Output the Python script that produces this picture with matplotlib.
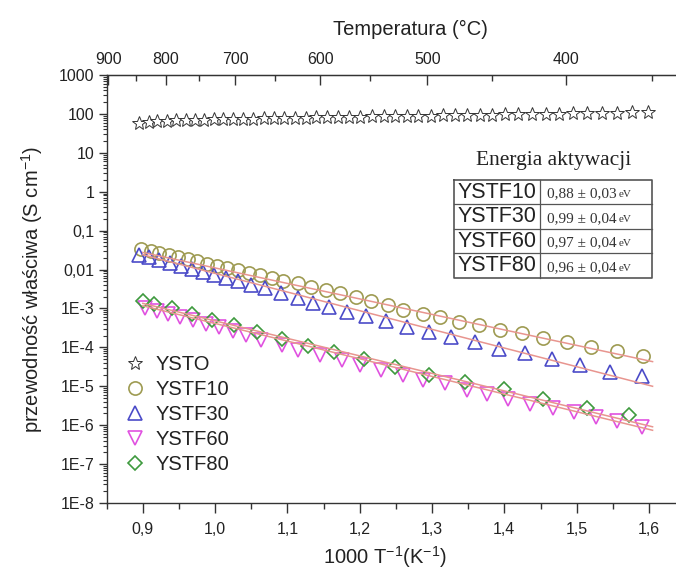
import numpy as np
import matplotlib
matplotlib.use("Agg")
import matplotlib.pyplot as plt
from matplotlib.ticker import FixedLocator, LogLocator, NullFormatter

plt.rcParams['font.family'] = ['Liberation Sans', 'DejaVu Sans']
plt.rcParams['mathtext.fontset'] = 'custom'
plt.rcParams['mathtext.rm'] = 'Liberation Sans'
plt.rcParams['mathtext.default'] = 'regular'

# ---------------- data ----------------
ysto_x = [0.895, 0.908, 0.920, 0.933, 0.946, 0.959, 0.972, 0.985, 0.998, 1.011,
          1.025, 1.039, 1.053, 1.067, 1.081, 1.095, 1.110, 1.125, 1.140, 1.155,
          1.170, 1.185, 1.201, 1.217, 1.233, 1.249, 1.265, 1.281, 1.298, 1.315,
          1.332, 1.349, 1.366, 1.383, 1.401, 1.419, 1.438, 1.457, 1.476, 1.495,
          1.515, 1.535, 1.556, 1.577, 1.598]
ysto_y = [58, 62, 65, 67, 68, 69, 70, 71, 72, 73,
          74, 75, 76, 77, 78, 78, 79, 80, 81, 82,
          83, 84, 85, 86, 87, 88, 89, 90, 91, 92,
          93, 94, 95, 96, 97, 98, 100, 101, 102, 104,
          105, 107, 108, 110, 112]

ystf10_x = [0.898, 0.911, 0.923, 0.936, 0.949, 0.962, 0.975, 0.989, 1.003, 1.017,
            1.032, 1.047, 1.062, 1.078, 1.094, 1.114, 1.133, 1.153, 1.173, 1.195,
            1.216, 1.239, 1.260, 1.287, 1.311, 1.337, 1.365, 1.394, 1.424, 1.454,
            1.487, 1.520, 1.556, 1.592]
ystf10_y = [3.3e-2, 2.95e-2, 2.63e-2, 2.34e-2, 2.09e-2, 1.82e-2, 1.62e-2, 1.41e-2, 1.26e-2, 1.10e-2,
            9.5e-3, 8.3e-3, 7.2e-3, 6.2e-3, 5.2e-3, 4.4e-3, 3.6e-3, 2.95e-3, 2.45e-3, 2.0e-3,
            1.58e-3, 1.23e-3, 9.1e-4, 7.4e-4, 5.9e-4, 4.6e-4, 3.7e-4, 2.75e-4, 2.3e-4, 1.7e-4,
            1.35e-4, 1.0e-4, 7.9e-5, 6.0e-5]

ystf30_x = [0.895, 0.909, 0.923, 0.938, 0.953, 0.968, 0.983, 0.999, 1.015, 1.032,
            1.050, 1.069, 1.091, 1.114, 1.135, 1.158, 1.183, 1.209, 1.236, 1.265,
            1.296, 1.326, 1.359, 1.392, 1.429, 1.466, 1.505, 1.546, 1.590]
ystf30_y = [2.3e-2, 2.05e-2, 1.74e-2, 1.45e-2, 1.23e-2, 1.02e-2, 8.7e-3, 7.2e-3, 6.0e-3, 5.0e-3,
            4.1e-3, 3.3e-3, 2.45e-3, 1.82e-3, 1.35e-3, 1.07e-3, 8.1e-4, 6.3e-4, 4.7e-4, 3.4e-4,
            2.5e-4, 1.82e-4, 1.38e-4, 9.3e-5, 7.1e-5, 5.0e-5, 3.5e-5, 2.35e-5, 1.86e-5]

ystf60_x = [0.903, 0.919, 0.935, 0.952, 0.969, 0.987, 1.005, 1.024, 1.043, 1.064,
            1.092, 1.115, 1.145, 1.175, 1.200, 1.230, 1.260, 1.288, 1.318, 1.348,
            1.376, 1.405, 1.435, 1.467, 1.496, 1.527, 1.556, 1.590]
ystf60_y = [1.05e-3, 8.7e-4, 7.2e-4, 6.0e-4, 5.0e-4, 4.1e-4, 3.4e-4, 2.7e-4, 2.1e-4, 1.55e-4,
            1.15e-4, 8.5e-5, 6.3e-5, 4.7e-5, 3.5e-5, 2.6e-5, 1.94e-5, 1.44e-5, 1.19e-5, 8.0e-6,
            6.3e-6, 4.8e-6, 3.5e-6, 2.8e-6, 2.2e-6, 1.6e-6, 1.3e-6, 9.0e-7]

ystf80_x = [0.900, 0.915, 0.940, 0.968, 0.996, 1.026, 1.058, 1.093, 1.128, 1.165,
            1.206, 1.249, 1.296, 1.346, 1.399, 1.454, 1.514, 1.573]
ystf80_y = [1.58e-3, 1.32e-3, 1.0e-3, 7.2e-4, 5.2e-4, 3.7e-4, 2.5e-4, 1.66e-4, 1.1e-4, 7.4e-5,
            5.1e-5, 3.2e-5, 2.0e-5, 1.32e-5, 8.3e-6, 4.7e-6, 2.75e-6, 1.8e-6]

# Arrhenius fit lines (end points)
fit_x = [0.900, 1.605]
fit10_y = [2.75e-2, 4.3e-5]
fit30_y = [2.4e-2, 1.0e-5]
fit60_y = [1.17e-3, 7.4e-7]
fit80_y = [1.35e-3, 9.1e-7]

x_ticks = [0.9, 1.0, 1.1, 1.2, 1.3, 1.4, 1.5, 1.6]
x_tick_labels = ['0,9', '1,0', '1,1', '1,2', '1,3', '1,4', '1,5', '1,6']
y_ticks = [1e3, 1e2, 1e1, 1e0, 1e-1, 1e-2, 1e-3, 1e-4, 1e-5, 1e-6, 1e-7, 1e-8]
y_tick_labels = ['1000', '100', '10', '1', '0,1', '0,01', '1E-3', '1E-4',
                 '1E-5', '1E-6', '1E-7', '1E-8']
top_ticks = [900, 800, 700, 600, 500, 400]
top_minor = [850, 750, 650, 550, 450, 350]

table_names = ['YSTF10', 'YSTF30', 'YSTF60', 'YSTF80']
table_values = ['0,88 ± 0,03', '0,99 ± 0,04', '0,97 ± 0,04', '0,96 ± 0,04']
table_unit = 'eV'

# ---------------- layout ----------------
W, H = 676, 571
fig = plt.figure(figsize=(W / 100, H / 100), dpi=100)


def fx(px):
    return px / W


def fy(py):
    return 1 - py / H


ax_left, ax_right, ax_top, ax_bot = 106.7, 700.0, 75.0, 503.0
px_per_unit = 723.0
ax = fig.add_axes([fx(ax_left), fy(ax_bot), (ax_right - ax_left) / W, (ax_bot - ax_top) / H])
ax.set_yscale('log')
ax.set_ylim(1e-8, 1e3)
ax.set_xlim(0.85, 0.85 + (ax_right - ax_left) / px_per_unit)

txtc = '#222222'
c10 = '#9E9B52'
c30 = '#4B4BC8'
c60 = '#E052E0'
c80 = '#3E9A3E'
cfit = '#E8958F'

# fit lines
for fy_ in (fit10_y, fit30_y, fit60_y, fit80_y):
    ax.plot(fit_x, fy_, color=cfit, lw=1.1, zorder=3)

mew = 1.2
h0, = ax.plot(ysto_x, ysto_y, ls='none', marker='*', ms=10, mfc='white', mec='#333333',
              mew=0.7, label='YSTO', zorder=4)
h1, = ax.plot(ystf10_x, ystf10_y, ls='none', marker='o', ms=9.5, mfc='none', mec=c10,
              mew=mew, label='YSTF10', zorder=2)
h2, = ax.plot(ystf30_x, ystf30_y, ls='none', marker='^', ms=9.5, mfc='none', mec=c30,
              mew=mew, label='YSTF30', zorder=2)
h3, = ax.plot(ystf60_x, ystf60_y, ls='none', marker='v', ms=9.5, mfc='none', mec=c60,
              mew=mew, label='YSTF60', zorder=2)
h4, = ax.plot(ystf80_x, ystf80_y, ls='none', marker='D', ms=7, mfc='none', mec=c80,
              mew=mew, label='YSTF80', zorder=2)

# axes styling
for s in ('left', 'bottom', 'top'):
    ax.spines[s].set_color('#333333')
    ax.spines[s].set_linewidth(1.0)
ax.spines['right'].set_visible(False)

ax.set_xticks(x_ticks)
ax.set_xticklabels(x_tick_labels)
ax.xaxis.set_minor_locator(FixedLocator([0.85, 0.95, 1.05, 1.15, 1.25, 1.35, 1.45, 1.55]))
ax.set_yticks(y_ticks)
ax.set_yticklabels(y_tick_labels)
ax.yaxis.set_minor_locator(LogLocator(base=10, subs=np.arange(2, 10), numticks=50))
ax.yaxis.set_minor_formatter(NullFormatter())
ax.tick_params(axis='x', which='major', direction='out', length=7, width=1,
               labelsize=11.5, pad=7, colors='#333333', labelcolor=txtc, top=False)
ax.tick_params(axis='x', which='minor', direction='out', length=4, width=1,
               colors='#333333', top=False)
ax.tick_params(axis='y', which='major', direction='out', length=6, width=1,
               labelsize=11.5, pad=3, colors='#333333', labelcolor=txtc, right=False)
ax.tick_params(axis='y', which='minor', direction='out', length=3, width=0.8,
               colors='#333333', right=False)

ax.set_xlabel('1000 T$^{-1}$(K$^{-1}$)', fontsize=14.5, color=txtc)
ax.xaxis.set_label_coords((385 - ax_left) / (ax_right - ax_left), (ax_bot - 557) / (ax_bot - ax_top))
ax.xaxis.label.set_va('center')
ax.set_ylabel('przewodność właściwa (S cm$^{-1}$)', fontsize=14.5, color=txtc)
ax.yaxis.set_label_coords((32 - ax_left) / (ax_right - ax_left), 0.5)
ax.yaxis.label.set_va('center')


# top temperature axis
def x_to_T(x):
    x = np.asarray(x, dtype=float)
    with np.errstate(divide='ignore', invalid='ignore'):
        return 1000.0 / x - 273.15


def T_to_x(T):
    T = np.asarray(T, dtype=float)
    with np.errstate(divide='ignore', invalid='ignore'):
        return 1000.0 / (T + 273.15)


sec = ax.secondary_xaxis('top', functions=(x_to_T, T_to_x))
sec.xaxis.set_major_locator(FixedLocator(top_ticks))
sec.xaxis.set_minor_locator(FixedLocator(top_minor))
sec.set_xticklabels([str(t) for t in top_ticks])
sec.tick_params(which='major', direction='in', length=7, width=1, labelsize=11.5,
                pad=6, colors='#333333', labelcolor=txtc)
sec.tick_params(which='minor', direction='in', length=4, width=1, colors='#333333')
sec.spines['top'].set_color('#333333')
sec.set_xlabel('Temperatura (°C)', fontsize=14.5, color=txtc, labelpad=12)
sec.xaxis.label.set_x((410 - ax_left) / (ax_right - ax_left))

# legend
ax.legend(handles=[h0, h1, h2, h3, h4], loc='upper left',
          bbox_to_anchor=(fx(125), fy(355)), bbox_transform=fig.transFigure,
          frameon=False, fontsize=14.5, handlelength=1.0, handletextpad=0.5,
          labelspacing=0.3, borderpad=0, borderaxespad=0, numpoints=1,
          labelcolor=txtc)

# activation energy table
tab_left, tab_right, tab_top, tab_bot = 454.0, 652.0, 180.0, 278.0
div_x = 540.0
tax = fig.add_axes([fx(tab_left), fy(tab_bot), (tab_right - tab_left) / W, (tab_bot - tab_top) / H])
tax.set_xlim(tab_left, tab_right)
tax.set_ylim(tab_bot, tab_top)
tax.axis('off')
bc = '#555555'
row_h = (tab_bot - tab_top) / len(table_names)
tax.plot([tab_left, tab_right, tab_right, tab_left, tab_left],
         [tab_top, tab_top, tab_bot, tab_bot, tab_top], color=bc, lw=1.2, clip_on=False)
tax.plot([div_x, div_x], [tab_top, tab_bot], color=bc, lw=0.9, clip_on=False)
for i in range(1, len(table_names)):
    yy = tab_top + i * row_h
    tax.plot([tab_left, tab_right], [yy, yy], color=bc, lw=0.9, clip_on=False)

fig.text(fx(554), fy(160), 'Energia aktywacji', ha='center', va='center',
         fontsize=15.5, family=['Liberation Serif', 'DejaVu Serif'], color=txtc)

val_texts = []
for i, (name, val) in enumerate(zip(table_names, table_values)):
    yc = tab_top + (i + 0.5) * row_h
    tax.text((tab_left + div_x) / 2, yc, name, ha='center', va='center',
             fontsize=15.5, color=txtc)
    t = tax.text(div_x + 7, yc + 5, val, ha='left', va='baseline', fontsize=11,
                 family=['Liberation Serif', 'DejaVu Serif'], color='#333333')
    val_texts.append((t, yc))

fig.canvas.draw()
renderer = fig.canvas.get_renderer()
inv = tax.transData.inverted()
for t, yc in val_texts:
    bb = t.get_window_extent(renderer)
    x1 = inv.transform((bb.x1, bb.y0))[0]
    tax.text(x1 + 2.5, yc + 5, table_unit, ha='left', va='baseline', fontsize=8,
             family=['Liberation Serif', 'DejaVu Serif'], color='#333333')

fig.savefig('out.png', dpi=100)
